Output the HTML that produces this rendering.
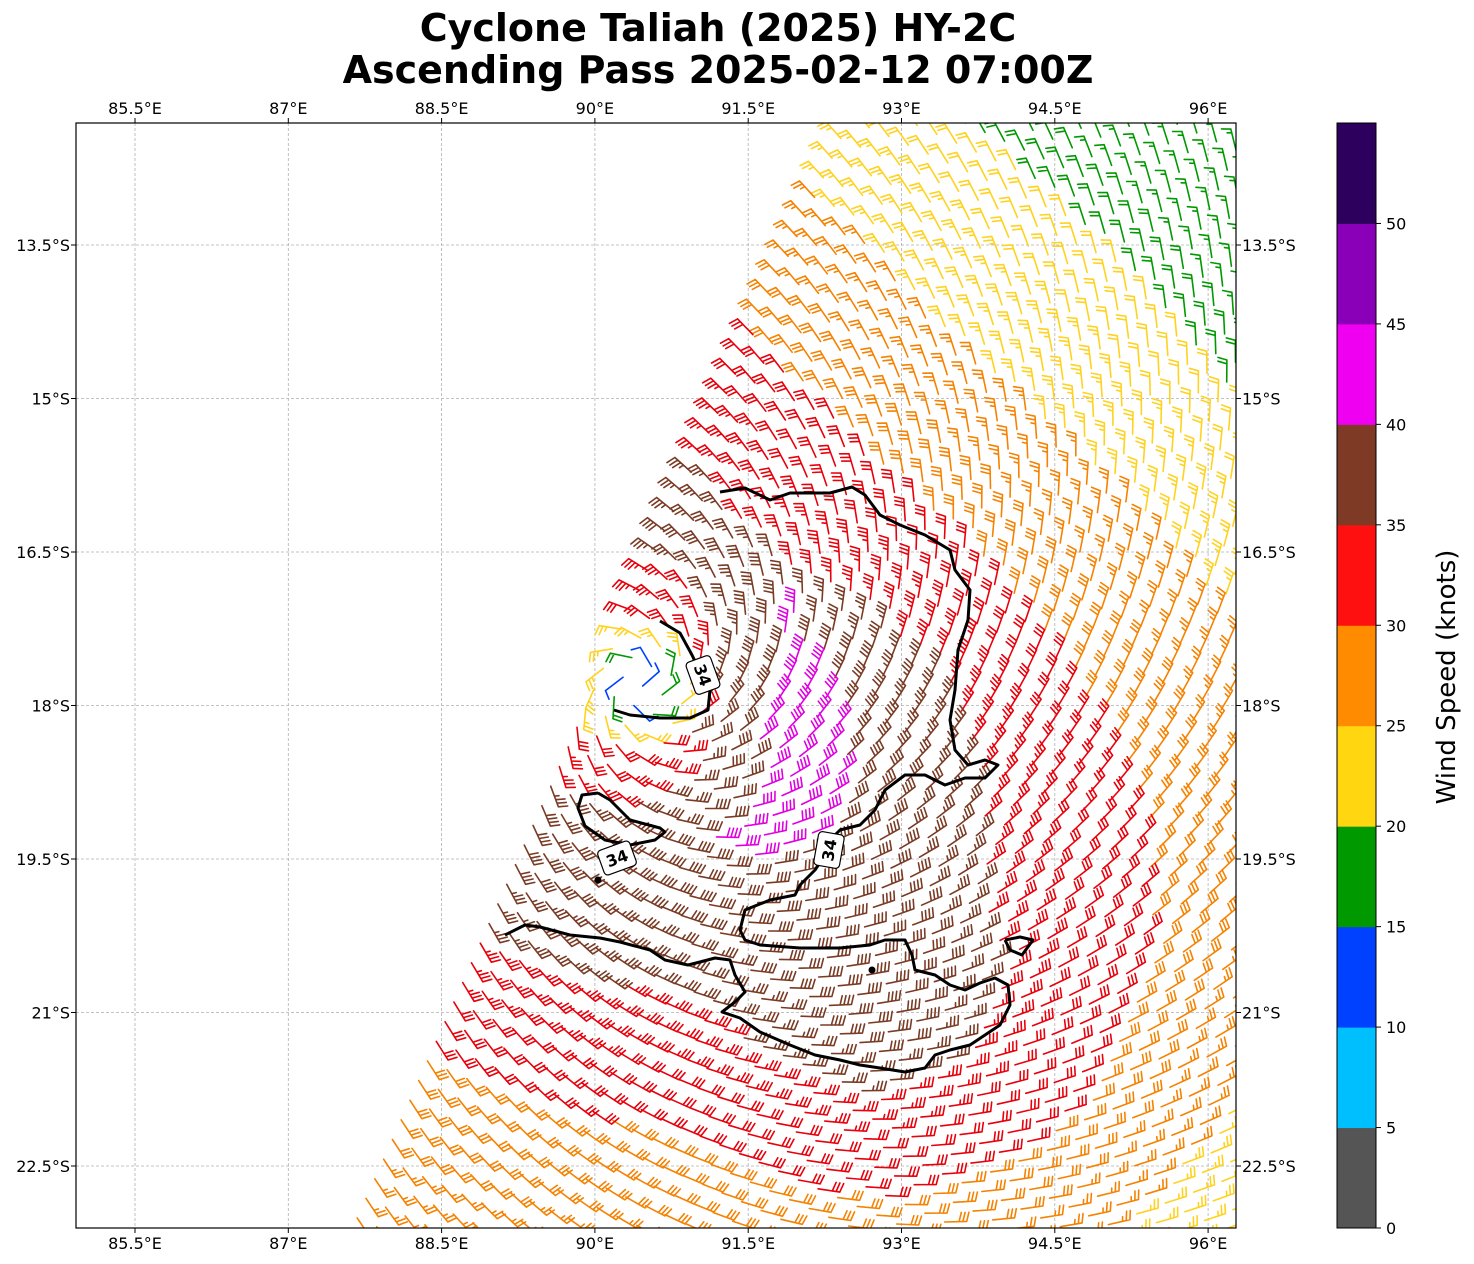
<!DOCTYPE html>
<html><head><meta charset="utf-8"><style>
body{margin:0;background:#fff;}
svg{display:block;font-family:"DejaVu Sans","Liberation Sans",sans-serif;}
</style></head><body>
<svg id="s" width="1474" height="1264" viewBox="0 0 1474 1264" xmlns="http://www.w3.org/2000/svg">
<defs><clipPath id="c"><rect x="76" y="123" width="1160" height="1105"/></clipPath></defs>
<rect width="1474" height="1264" fill="#fff"/>
<text x="718" y="41" font-size="38" font-weight="bold" text-anchor="middle">Cyclone Taliah (2025) HY-2C</text>
<text x="718" y="83" font-size="38" font-weight="bold" text-anchor="middle">Ascending Pass 2025-02-12 07:00Z</text>
<g id="grid" stroke="#b0b0b0" stroke-width="0.8" stroke-dasharray="3,2"></g>
<g id="barbs" clip-path="url(#c)" fill="none" stroke-width="1.6" stroke-linecap="round"></g>
<g fill="none" stroke="#000" stroke-width="3" stroke-linejoin="round" clip-path="url(#c)">
<polyline points="720,492 745,488 770,500 790,493 830,493 852,487 865,495 880,515 900,525 925,535 950,550 955,570 970,590 968,620 958,650 955,690 950,720 955,750 968,765 985,760 998,765 985,778 965,778 945,785 925,775 905,775 885,790 875,810 860,825 840,830 830,840 825,855 815,870 800,885 795,895 770,900 745,910 740,930 745,940 760,945 800,948 840,948 870,945 885,940 905,940 912,955 915,970 935,975 950,985 965,990 980,983 995,978 1008,985 1010,1005 1000,1025 985,1035 970,1045 950,1050 935,1055 925,1068 905,1072 880,1068 860,1065 840,1060 815,1055 790,1045 760,1032 740,1018 722,1012 735,1002 745,992 735,975 730,960 715,958 700,962 688,965 665,960 650,950 620,942 600,938 570,935 540,927 525,925 505,935"/>
<polyline points="598,793 610,800 630,820 660,828 665,832 655,840 630,845 605,840 585,826 578,808 582,795 598,793"/>
<polyline points="660,621 680,633 692,655 700,672 710,690 708,710 690,718 660,718 630,715 614,710"/>
<polyline points="1005,940 1020,937 1033,940 1022,955 1010,950 1005,940"/>
</g>
<circle cx="598" cy="880" r="3.5" fill="#000"/><circle cx="872" cy="970" r="3.5" fill="#000"/>
<g font-size="16" font-weight="bold" text-anchor="middle">
<g transform="translate(703,675) rotate(70)"><rect x="-17" y="-13" width="34" height="26" rx="4" fill="#fff" stroke="#000" stroke-width="1.2"/><text y="6">34</text></g>
<g transform="translate(617,858) rotate(-20)"><rect x="-17" y="-13" width="34" height="26" rx="4" fill="#fff" stroke="#000" stroke-width="1.2"/><text y="6">34</text></g>
<g transform="translate(829,850) rotate(-80)"><rect x="-17" y="-13" width="34" height="26" rx="4" fill="#fff" stroke="#000" stroke-width="1.2"/><text y="6">34</text></g>
</g>
<rect x="76" y="123" width="1160" height="1105" fill="none" stroke="#000" stroke-width="1.2"/>
<g id="ticks" font-size="16"></g>
<g id="cb"></g>
<text transform="translate(1455,677) rotate(-90)" font-size="26" text-anchor="middle">Wind Speed (knots)</text>
</svg>
<script>
var NS="http://www.w3.org/2000/svg";
function el(p,t,a,txt){var e=document.createElementNS(NS,t);for(var k in a)e.setAttribute(k,a[k]);if(txt!==undefined)e.textContent=txt;p.appendChild(e);return e;}
var grid=document.getElementById('grid'),ticks=document.getElementById('ticks');
var lons=['85.5°E','87°E','88.5°E','90°E','91.5°E','93°E','94.5°E','96°E'];
var lats=['13.5°S','15°S','16.5°S','18°S','19.5°S','21°S','22.5°S'];
for(var i=0;i<8;i++){var x=135+i*153.3;el(grid,'line',{x1:x,y1:123,x2:x,y2:1228});
el(ticks,'text',{x:x,y:114,'text-anchor':'middle'},lons[i]);el(ticks,'text',{x:x,y:1249,'text-anchor':'middle'},lons[i]);
el(ticks,'line',{x1:x,y1:123,x2:x,y2:118,stroke:'#000'});el(ticks,'line',{x1:x,y1:1228,x2:x,y2:1233,stroke:'#000'});}
for(var j=0;j<7;j++){var y=245+j*153.5;el(grid,'line',{x1:76,y1:y,x2:1236,y2:y});
el(ticks,'text',{x:70,y:y+6,'text-anchor':'end'},lats[j]);el(ticks,'text',{x:1242,y:y+6},lats[j]);
el(ticks,'line',{x1:76,y1:y,x2:71,y2:y,stroke:'#000'});el(ticks,'line',{x1:1236,y1:y,x2:1241,y2:y,stroke:'#000'});}
var cols=['#555555','#00bfff','#0040ff','#009900','#ffd610','#ff8c00','#ff1010','#7f3a25','#f000f0','#8a00b8','#2e005e'];
var cb=document.getElementById('cb');var h=1105/11;
for(var k=0;k<11;k++){el(cb,'rect',{x:1337,y:1228-(k+1)*h,width:39,height:h+0.5,fill:cols[k]});}
el(cb,'rect',{x:1337,y:123,width:39,height:1105,fill:'none',stroke:'#000','stroke-width':1});
for(var k=0;k<=10;k++){var y=1228-k*h;el(cb,'line',{x1:1376,y1:y,x2:1381,y2:y,stroke:'#000'});el(cb,'text',{x:1386,y:y+6,'font-size':16},String(k*5));}
var bc=['#555555','#00bfff','#0040ff','#009900','#ffd21f','#f58200','#e8000b','#7a3b25','#e000e0','#8a00b8','#2e005e'];
var g=document.getElementById('barbs');
var CX=640,CY=685;
function spd(x,y){var dx=x-CX,dy=y-CY,r=Math.sqrt(dx*dx+dy*dy)+0.01;var s;
if(r<22)s=12;else if(r<40)s=18;else if(r<60)s=24;else if(r<80)s=31;
else if(r<170)s=31+8*(r-80)/90;
else{var pts=[[170,39],[300,35],[430,30],[620,25],[700,21],[900,17]];s=17;
for(var i=0;i<pts.length-1;i++){if(r>=pts[i][0]&&r<pts[i+1][0]){var f=(r-pts[i][0])/(pts[i+1][0]-pts[i][0]);s=pts[i][1]+f*(pts[i+1][1]-pts[i][1]);break;}}}
if(r>=170){s-=8*Math.max(0,-dy/r)*Math.max(0,dx/r);s+=9*Math.max(0,dy/r)*Math.max(0,dx/r)*Math.min(1,r/450);}
var ex=x-880,ey=y-1000;s+=5*Math.exp(-(ex*ex+ey*ey)/(2*70*70));
s=Math.min(s,39.5);
if(r>=70){var mx=x-735,my=y-705;s+=5.5*Math.exp(-(mx*mx+my*my)/(2*70*70));}
return s;}
var ux=-0.409,uy=0.913,vx=0.913,vy=0.409,sp=21.5;
function lefte(y){return 835-0.448*(y-123);}
var paths={};
for(var i=-10;i<80;i++)for(var j=-10;j<80;j++){
var x=830+i*sp*ux+j*sp*vx,y=110+i*sp*uy+j*sp*vy;
if(x<60||x>1250||y<110||y>1245)continue;if(x<lefte(y)+4)continue;
var s=spd(x,y);var kn=Math.round(s/5)*5;var ci=Math.min(10,Math.floor(s/5));
var dx=x-CX,dy=y-CY;var a=Math.atan2(dy,dx)-62*Math.PI/180;
var Dx=Math.cos(a),Dy=Math.sin(a);var Nx=Dy,Ny=-Dx;
var tx=x+22*Dx,ty=y+22*Dy;
var p='M'+x.toFixed(1)+' '+y.toFixed(1)+'L'+tx.toFixed(1)+' '+ty.toFixed(1);
var full=Math.floor(kn/10),half=(kn%10)>=5?1:0;var pos=0;
for(var f=0;f<full;f++){var bx=tx-pos*3.8*Dx,by=ty-pos*3.8*Dy;p+='M'+bx.toFixed(1)+' '+by.toFixed(1)+'L'+(bx+9*Nx+2.5*Dx).toFixed(1)+' '+(by+9*Ny+2.5*Dy).toFixed(1);pos++;}
if(half){if(pos===0)pos=1;var bx=tx-pos*3.8*Dx,by=ty-pos*3.8*Dy;p+='M'+bx.toFixed(1)+' '+by.toFixed(1)+'L'+(bx+4.5*Nx+1.2*Dx).toFixed(1)+' '+(by+4.5*Ny+1.2*Dy).toFixed(1);}
paths[ci]=(paths[ci]||'')+p;}
for(var c in paths)el(g,'path',{d:paths[c],stroke:bc[c]});
</script>
</body></html>
